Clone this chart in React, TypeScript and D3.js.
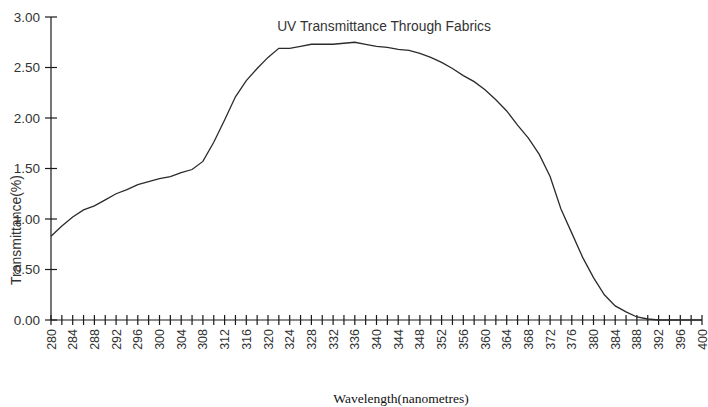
import { useRef, useEffect } from "react";
import * as d3 from "d3";

const WAVELENGTHS = [
  280, 282, 284, 286, 288, 290, 292, 294, 296, 298, 300, 302, 304, 306, 308, 310,
  312, 314, 316, 318, 320, 322, 324, 326, 328, 330, 332, 334, 336, 338, 340, 342,
  344, 346, 348, 350, 352, 354, 356, 358, 360, 362, 364, 366, 368, 370, 372, 374,
  376, 378, 380, 382, 384, 386, 388, 390, 392, 394, 396, 398, 400,
];

const TRANSMITTANCE = [
  0.83, 0.93, 1.02, 1.09, 1.13, 1.19, 1.25, 1.29, 1.34, 1.37, 1.4, 1.42, 1.46, 1.49, 1.57, 1.76,
  1.98, 2.21, 2.37, 2.49, 2.6, 2.69, 2.69, 2.71, 2.73, 2.73, 2.73, 2.74, 2.75, 2.73, 2.71, 2.7,
  2.68, 2.67, 2.64, 2.6, 2.55, 2.49, 2.42, 2.36, 2.28, 2.18, 2.07, 1.93, 1.8, 1.64, 1.42, 1.1,
  0.86, 0.62, 0.42, 0.25, 0.14, 0.08, 0.03, 0.01, 0, 0, 0, 0, 0,
];

const Y_TICKS = [0, 0.5, 1, 1.5, 2, 2.5, 3];
const X_LABEL_TICKS = d3.range(280, 401, 4);
const X_MINOR_TICKS = d3.range(280, 401, 2);

const TITLE = "UV Transmittance Through Fabrics";
const X_TITLE = "Wavelength(nanometres)";
const Y_TITLE = "Transmittance(%)";

const WIDTH = 708;
const HEIGHT = 407;
const MARGIN = { top: 17, right: 6, bottom: 87, left: 51 };

export default function App() {
  const svgRef = useRef<SVGSVGElement>(null);

  useEffect(() => {
    if (!svgRef.current) return;
    const svg = d3.select(svgRef.current);
    svg.selectAll("*").remove();

    const innerW = WIDTH - MARGIN.left - MARGIN.right;
    const innerH = HEIGHT - MARGIN.top - MARGIN.bottom;

    const x = d3.scaleLinear().domain([280, 400]).range([0, innerW]);
    const y = d3.scaleLinear().domain([0, 3]).range([innerH, 0]);

    const g = svg.append("g").attr("transform", `translate(${MARGIN.left},${MARGIN.top})`);
    const axisColor = "#1a1a1a";
    const textColor = "#333";
    const sans = "Liberation Sans, Arial, sans-serif";

    // y axis: ticks cross the line
    const yAxis = g.append("g");
    yAxis.append("line")
      .attr("x1", 0).attr("x2", 0)
      .attr("y1", 0).attr("y2", innerH)
      .attr("stroke", axisColor).attr("stroke-width", 1.2);
    yAxis.selectAll("line.tick")
      .data(Y_TICKS)
      .join("line")
      .attr("class", "tick")
      .attr("x1", -6).attr("x2", 6)
      .attr("y1", (d) => y(d)).attr("y2", (d) => y(d))
      .attr("stroke", axisColor).attr("stroke-width", 1.2);
    yAxis.selectAll("text")
      .data(Y_TICKS)
      .join("text")
      .attr("x", -11)
      .attr("y", (d) => y(d))
      .attr("dy", "0.36em")
      .attr("text-anchor", "end")
      .attr("font-family", sans)
      .attr("font-size", 13.5)
      .attr("fill", textColor)
      .text((d) => d3.format(".2f")(d));

    // x axis
    const xAxis = g.append("g").attr("transform", `translate(0,${innerH})`);
    xAxis.append("line")
      .attr("x1", 0).attr("x2", innerW)
      .attr("y1", 0).attr("y2", 0)
      .attr("stroke", axisColor).attr("stroke-width", 1.2);
    xAxis.selectAll("line.tick")
      .data(X_MINOR_TICKS)
      .join("line")
      .attr("class", "tick")
      .attr("x1", (d) => x(d)).attr("x2", (d) => x(d))
      .attr("y1", -5).attr("y2", 5)
      .attr("stroke", axisColor).attr("stroke-width", 1.2);
    xAxis.selectAll("text")
      .data(X_LABEL_TICKS)
      .join("text")
      .attr("transform", (d) => `translate(${x(d)},9) rotate(-90)`)
      .attr("dy", "0.36em")
      .attr("text-anchor", "end")
      .attr("font-family", sans)
      .attr("font-size", 12.5)
      .attr("fill", textColor)
      .text((d) => String(d));

    // data line
    const data = WAVELENGTHS.map((w, i) => ({ w, v: TRANSMITTANCE[i] }));
    const line = d3.line<{ w: number; v: number }>()
      .x((d) => x(d.w))
      .y((d) => y(d.v));
    g.append("path")
      .datum(data)
      .attr("d", line)
      .attr("fill", "none")
      .attr("stroke", "#2b2b2b")
      .attr("stroke-width", 1.3);

    // titles
    svg.append("text")
      .attr("x", 384)
      .attr("y", 31)
      .attr("text-anchor", "middle")
      .attr("font-family", sans)
      .attr("font-size", 13.8)
      .attr("fill", textColor)
      .text(TITLE);

    svg.append("text")
      .attr("x", 401)
      .attr("y", 403)
      .attr("text-anchor", "middle")
      .attr("font-family", "Liberation Serif, Times New Roman, serif")
      .attr("font-size", 13.5)
      .attr("fill", "#111")
      .text(X_TITLE);

    svg.append("text")
      .attr("transform", "translate(21,230) rotate(-90)")
      .attr("text-anchor", "middle")
      .attr("font-family", sans)
      .attr("font-size", 14)
      .attr("fill", textColor)
      .text(Y_TITLE);
  }, []);

  return (
    <svg
      ref={svgRef}
      width={WIDTH}
      height={HEIGHT}
      style={{ position: "absolute", left: 0, top: 0, background: "#fff" }}
    />
  );
}
